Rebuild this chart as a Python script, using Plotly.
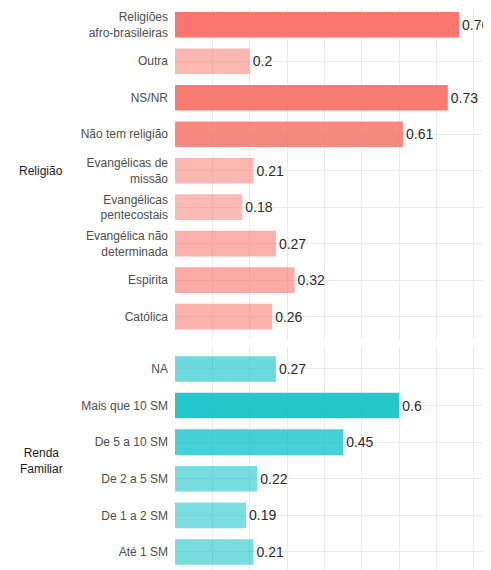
import plotly.graph_objects as go

# ---- data ----
relig_cats = ["Católica", "Espirita", "Evangélica não<br>determinada", "Evangélicas<br>pentecostais",
              "Evangélicas de<br>missão", "Não tem religião", "NS/NR", "Outra",
              "Religiões<br>afro-brasileiras"]
relig_vals = [0.26, 0.32, 0.27, 0.18, 0.21, 0.61, 0.73, 0.20, 0.76]

renda_cats = ["Até 1 SM", "De 1 a 2 SM", "De 2 a 5 SM", "De 5 a 10 SM", "Mais que 10 SM", "NA"]
renda_vals = [0.21, 0.19, 0.22, 0.45, 0.60, 0.27]

panel_labels = ["Religião", "Renda<br>Familiar"]

RED = (248, 118, 109)
TEAL = (0, 191, 196)
all_vals = relig_vals + renda_vals
vmin, vmax = min(all_vals), max(all_vals)


def colors(vals, base):
    out = []
    for v in vals:
        a = 0.5 + 0.5 * (v - vmin) / (vmax - vmin)
        out.append(f"rgba({base[0]},{base[1]},{base[2]},{a:.3f})")
    return out


def fmt(v):
    return f"{v:.2f}".rstrip("0").rstrip(".")


# page body has an 8px default margin -> work in window pixels and convert
OFF = 8
WIN_W, WIN_H = 491, 570
W, H = WIN_W - OFF, WIN_H - OFF


def fx(px):
    return (px - OFF) / W


def fy(py):
    return 1 - (py - OFF) / H


x0_px, x1_px = 175, 487
px_per_unit = 373.7
xmax = (x1_px - x0_px) / px_per_unit
FONT = "Liberation Sans, Arial"

fig = go.Figure()
fig.add_trace(go.Bar(
    y=list(range(len(relig_cats))), x=relig_vals, orientation="h",
    marker=dict(color=colors(relig_vals, RED), line=dict(width=0)),
    width=0.7, text=[fmt(v) for v in relig_vals], textposition="outside",
    constraintext="none", cliponaxis=False,
    textfont=dict(size=14, color="#2b2b2b", family=FONT),
    xaxis="x", yaxis="y", showlegend=False, hoverinfo="x+y"))
fig.add_trace(go.Bar(
    y=list(range(len(renda_cats))), x=renda_vals, orientation="h",
    marker=dict(color=colors(renda_vals, TEAL), line=dict(width=0)),
    width=0.7, text=[fmt(v) for v in renda_vals], textposition="outside",
    constraintext="none", cliponaxis=False,
    textfont=dict(size=14, color="#2b2b2b", family=FONT),
    xaxis="x2", yaxis="y2", showlegend=False, hoverinfo="x+y"))

top_top, top_bot = 2.8, 338.5
bot_top, bot_bot = 347.0, 570.0
unit_top = (top_bot - top_top) / 9.2
unit_bot = 36.6

xdom = [fx(x0_px), fx(x1_px)]
xcommon = dict(range=[0, xmax], dtick=0.1, tick0=0, showgrid=True, gridcolor="#ebebeb",
               gridwidth=1, showticklabels=False, zeroline=False, showline=False, ticks="",
               fixedrange=True, automargin=False)
ycommon = dict(showgrid=True, gridcolor="#ebebeb", gridwidth=1, zeroline=False, showline=False,
               ticks="", tickfont=dict(size=12, color="#4d4d4d", family=FONT),
               ticklabelstandoff=6, fixedrange=True, automargin=False)

top_range_hi = len(relig_cats) - 0.4 - (OFF - top_top) / unit_top
bot_span = (bot_bot - bot_top) / unit_bot
fig.update_layout(
    width=W, height=H, margin=dict(l=0, r=0, t=0, b=0, autoexpand=False),
    paper_bgcolor="white", plot_bgcolor="white",
    xaxis=dict(domain=xdom, anchor="y", **xcommon),
    yaxis=dict(domain=[fy(top_bot), 1], anchor="x",
               range=[-0.6, top_range_hi],
               tickmode="array", tickvals=list(range(len(relig_cats))), ticktext=relig_cats,
               **ycommon),
    xaxis2=dict(domain=xdom, anchor="y2", **xcommon),
    yaxis2=dict(domain=[0, fy(bot_top)], anchor="x2",
                range=[len(renda_cats) - 0.4 - bot_span, len(renda_cats) - 0.4],
                tickmode="array", tickvals=list(range(len(renda_cats))), ticktext=renda_cats,
                **ycommon),
    annotations=[
        dict(text=panel_labels[0], x=fx(41), y=fy((top_top + top_bot) / 2),
             xref="paper", yref="paper", showarrow=False, xanchor="center", yanchor="middle",
             font=dict(size=12, color="#1a1a1a", family=FONT)),
        dict(text=panel_labels[1], x=fx(41), y=fy((bot_top + 575) / 2),
             xref="paper", yref="paper", showarrow=False, xanchor="center", yanchor="middle",
             font=dict(size=12, color="#1a1a1a", family=FONT)),
    ],
)

fig.write_html("out.html")
